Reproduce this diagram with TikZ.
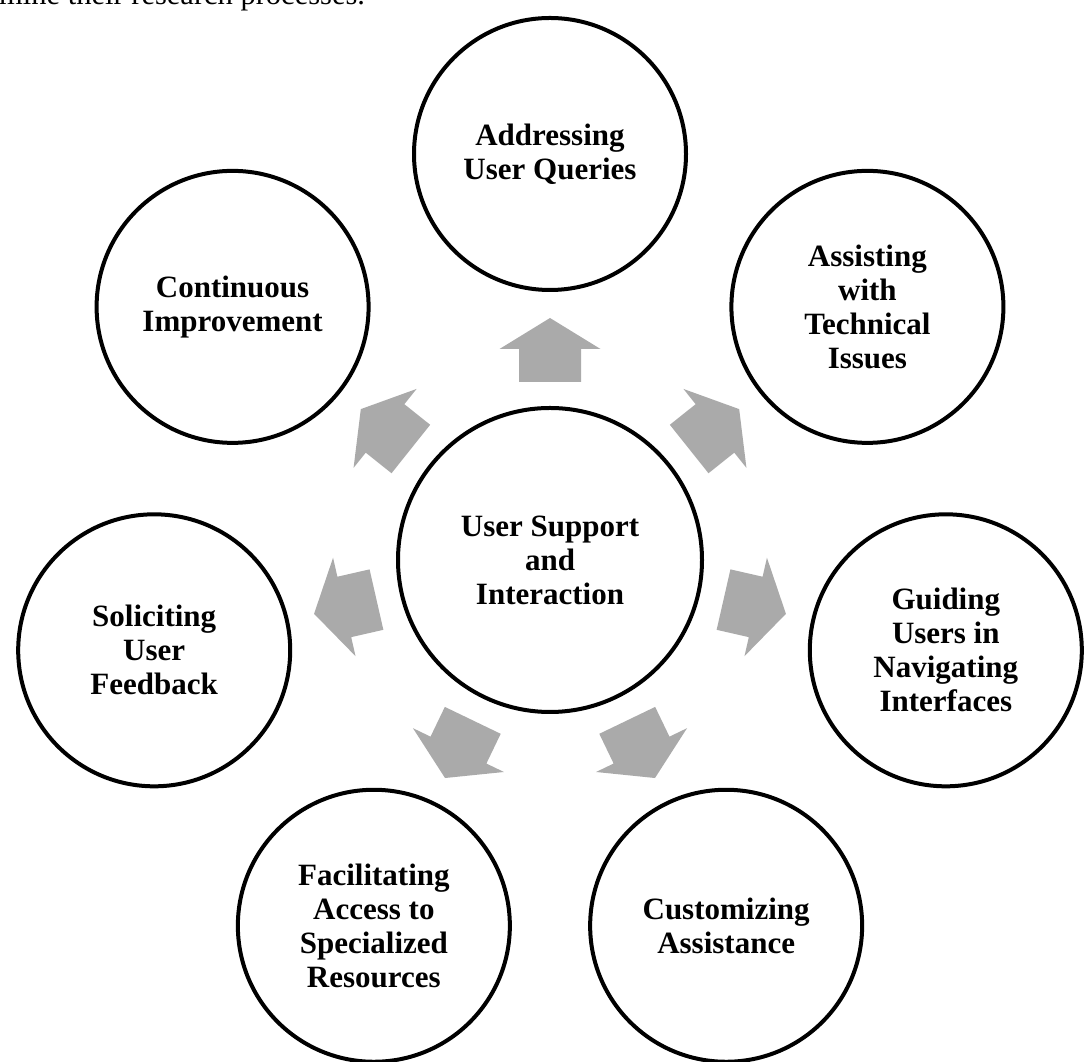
\documentclass[tikz,border=0pt]{standalone}
\usepackage{fontspec}
\setmainfont{Liberation Serif}
\usetikzlibrary{calc}
\definecolor{arrowgray}{RGB}{170,170,170}
\begin{document}
\begin{tikzpicture}[x=1pt,y=1pt,
  bubble/.style={circle,draw=black,line width=4pt,minimum size=272pt,inner sep=0pt,
    align=center,font=\bfseries\fontsize{31}{34}\selectfont},
  hub/.style={bubble,minimum size=304pt},
  blockarrow/.style={fill=arrowgray,draw=none}]
\useasboundingbox (0,0) rectangle (1090,1062);
\coordinate (c0) at (550,502);
\node[anchor=base west,inner sep=0pt,font=\fontsize{30.5}{34}\selectfont] (cap) at (-1,1057) {mine their research processes.};
\node[hub] (hub) at (c0) {User Support\\and\\Interaction};
\node[bubble] (n1) at ($(c0)+(90:406)$) {Addressing\\User Queries};
\node[bubble] (n2) at ($(c0)+(38.571:406)$) {Assisting\\with\\Technical\\Issues};
\node[bubble] (n3) at ($(c0)+(-12.857:406)$) {Guiding\\Users in\\Navigating\\Interfaces};
\node[bubble] (n4) at ($(c0)+(-64.286:406)$) {Customizing\\Assistance};
\node[bubble] (n5) at ($(c0)+(-115.714:406)$) {Facilitating\\Access to\\Specialized\\Resources};
\node[bubble] (n6) at ($(c0)+(-167.143:406)$) {Soliciting\\User\\Feedback};
\node[bubble] (n7) at ($(c0)+(141.429:406)$) {Continuous\\Improvement};
\foreach \a in {90,38.571,-12.857,-64.286,-115.714,-167.143,141.429}{
  \fill[blockarrow,shift={($(c0)+(\a:178)$)},rotate=\a]
    (0,-31) -- (33,-31) -- (33,-50.5) -- (64,0) -- (33,50.5) -- (33,31) -- (0,31) -- cycle;
}
\end{tikzpicture}
\end{document}
